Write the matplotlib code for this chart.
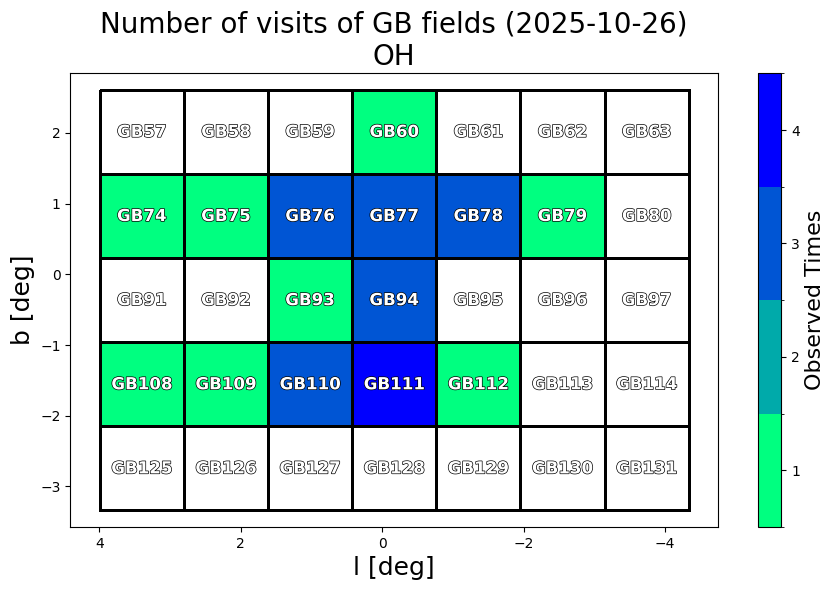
import numpy as np
import matplotlib
matplotlib.use("Agg")
import matplotlib.pyplot as plt
import matplotlib.patheffects as pe
from matplotlib.colors import ListedColormap, BoundaryNorm

# field centres (deg) and number of visits
l_centers = [3.40, 2.21, 1.02, -0.17, -1.36, -2.55, -3.74]
b_centers = [2.015, 0.825, -0.365, -1.555, -2.745]
cell = 1.19

field_ids = [
    [57, 58, 59, 60, 61, 62, 63],
    [74, 75, 76, 77, 78, 79, 80],
    [91, 92, 93, 94, 95, 96, 97],
    [108, 109, 110, 111, 112, 113, 114],
    [125, 126, 127, 128, 129, 130, 131],
]
visits = [
    [0, 0, 0, 1, 0, 0, 0],
    [1, 1, 3, 3, 3, 1, 0],
    [0, 0, 1, 3, 0, 0, 0],
    [1, 1, 3, 4, 1, 0, 0],
    [0, 0, 0, 0, 0, 0, 0],
]
levels = [1, 2, 3, 4]

base = plt.get_cmap("winter_r")
cmap = ListedColormap([base(i / (len(levels) - 1)) for i in range(len(levels))])
cmap.set_under("white")
norm = BoundaryNorm(np.arange(0.5, len(levels) + 1), cmap.N)

lc = np.array(l_centers)
bc = np.array(b_centers)
l_edges = np.append(lc + cell / 2, lc[-1] - cell / 2)
b_edges = np.append(bc + cell / 2, bc[-1] - cell / 2)

fig = plt.figure(figsize=(8.35, 5.9), dpi=100)
ax = fig.add_axes([0.0842, 0.1068, 0.7758, 0.7689])
cax = fig.add_axes([0.9081, 0.1068, 0.0275, 0.7689])

mesh = ax.pcolormesh(l_edges, b_edges, np.array(visits), cmap=cmap, norm=norm,
                     edgecolors="black", linewidth=2)

for j, b in enumerate(b_centers):
    for i, l in enumerate(l_centers):
        ax.text(l, b, f"GB{field_ids[j][i]}", ha="center", va="center",
                color="white", fontsize=12, fontweight="bold",
                path_effects=[pe.withStroke(linewidth=1.0, foreground="black")])

ax.use_sticky_edges = False
ax.margins(0.05)
ax.set_aspect("equal", adjustable="datalim")
ax.invert_xaxis()
ax.set_xlabel("l [deg]", fontsize=18)
ax.set_ylabel("b [deg]", fontsize=18)
ax.set_title("Number of visits of GB fields (2025-10-26)\nOH", fontsize=20)

cb = fig.colorbar(mesh, cax=cax, ticks=levels)
cb.set_label("Observed Times", fontsize=16)

fig.savefig("out.png", dpi=100)
